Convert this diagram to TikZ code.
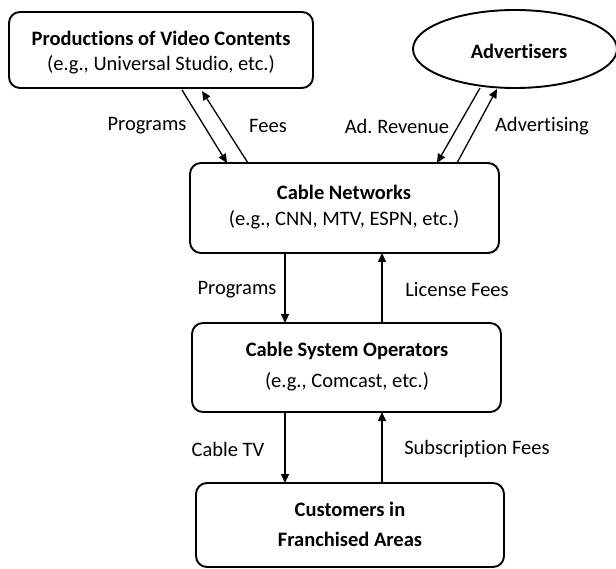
\documentclass[tikz,border=0pt]{standalone}
\usepackage{fontspec}
\setmainfont{Carlito}[Ligatures=NoCommon]
\usetikzlibrary{arrows.meta,shapes.geometric}
\frenchspacing
\begin{document}
\begin{tikzpicture}[x=1pt,y=-1pt,
  box/.style={draw,line width=1.9pt,rounded corners=11pt},
  lbl/.style={font=\fontsize{20.5}{24}\selectfont,inner sep=0pt},
  btxt/.style={font=\fontsize{20.5}{24}\selectfont\bfseries,inner sep=0pt},
  ntxt/.style={font=\fontsize{20.5}{24}\selectfont,inner sep=0pt},
  arr/.style={line width=1.3pt,-{Triangle[length=9pt,width=8pt]}}]
\useasboundingbox (0,0) rectangle (616,569);
\clip (0,0) rectangle (616,569);
\fill[white] (0,0) rectangle (616,569);
% boxes
\draw[box] (9,12) rectangle (313,88);
\node[btxt] at (161,38) {Productions of Video Contents};
\node[ntxt] at (161,65) {(e.g., Universal Studio, etc.)};
\coordinate (prodA) at (182,90);
\coordinate (prodB) at (202,91);

\draw[line width=1.9pt] (515,49) ellipse (102 and 39);
\node[btxt] (adv) at (519,51) {Advertisers};
\coordinate (advA) at (480,88);
\coordinate (advB) at (497,89);

\draw[box] (190,163) rectangle (499,253);
\node[btxt] (cn) at (344,192) {Cable Networks};
\node[ntxt] at (344,220) {(e.g., CNN, MTV, ESPN, etc.)};
\coordinate (cnA) at (227,163);
\coordinate (cnB) at (248,163);
\coordinate (cnC) at (437,163);
\coordinate (cnD) at (457,163);
\coordinate (cnE) at (285,253);
\coordinate (cnF) at (382,253);

\draw[box] (192,323) rectangle (501,412);
\node[btxt] (cso) at (347,351) {Cable System Operators};
\node[ntxt] at (347,382) {(e.g., Comcast, etc.)};
\coordinate (csoA) at (285,323);
\coordinate (csoB) at (382,323);
\coordinate (csoC) at (285,412);
\coordinate (csoD) at (382,412);

\draw[box] (196,483) rectangle (504,567);
\node[btxt] (cu1) at (350,509) {Customers in};
\node[btxt] (cu2) at (350,539) {Franchised Areas};
\coordinate (cuA) at (285,483);
\coordinate (cuB) at (382,483);

% arrows
\draw[arr] (prodA) -- (cnA);
\draw[arr] (cnB) -- (prodB);
\draw[arr] (advA) -- (cnC);
\draw[arr] (cnD) -- (advB);
\draw[arr] (cnE) -- (csoA);
\draw[arr] (csoB) -- (cnF);
\draw[arr] (csoC) -- (cuA);
\draw[arr] (cuB) -- (csoD);

% labels
\node[lbl] at (147,126) {Programs};
\node[lbl] at (268,126) {Fees};
\node[lbl] at (397,126) {Ad. Revenue};
\node[lbl] at (542,126) {Advertising};
\node[lbl] at (237,290) {Programs};
\node[lbl] at (457,290) {License Fees};
\node[lbl] at (228,449) {Cable TV};
\node[lbl] at (477,449) {Subscription Fees};
\end{tikzpicture}
\end{document}
